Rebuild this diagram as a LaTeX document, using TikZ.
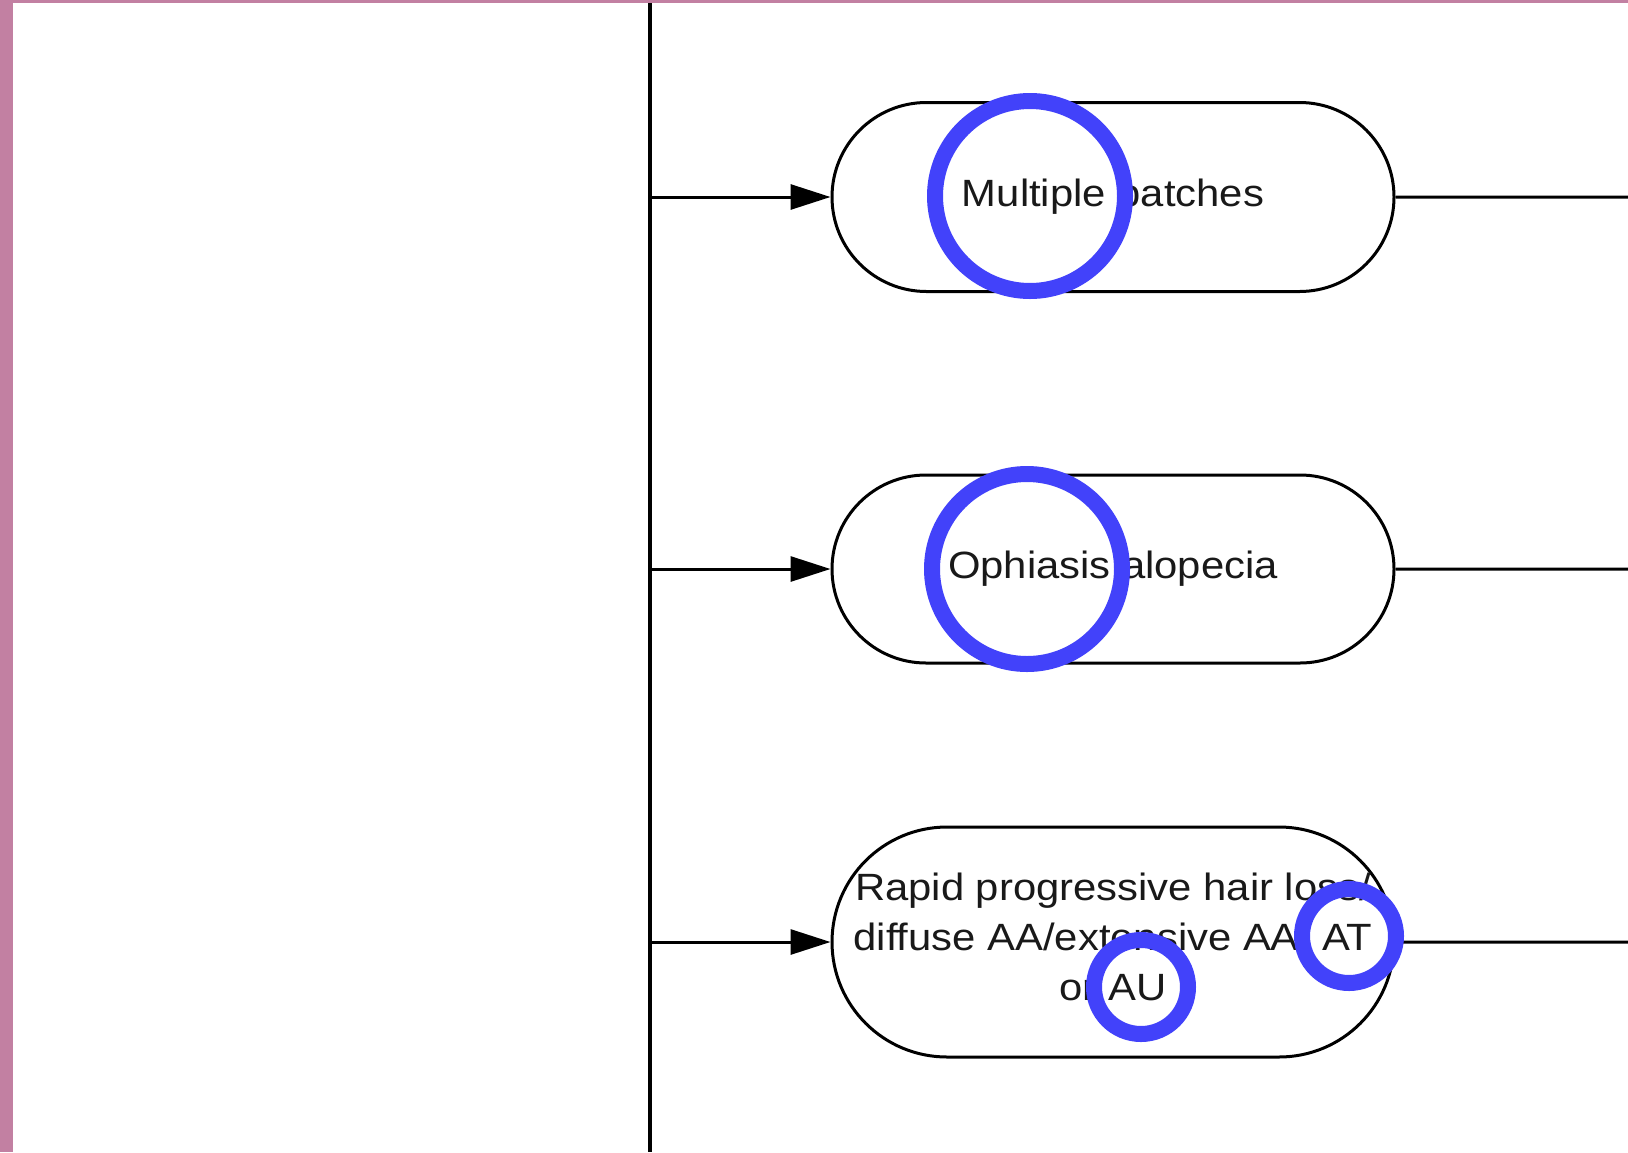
\documentclass[tikz,border=0pt]{standalone}
\usepackage{fontspec}
\setmainfont{Liberation Sans}[FakeStretch=1.1]
\usetikzlibrary{arrows.meta,shapes.misc}
\definecolor{framepink}{RGB}{194,128,162}
\definecolor{markblue}{RGB}{66,66,250}
\tikzstyle{stadium}=[rounded rectangle,draw,line width=3pt,minimum width=562pt,inner sep=0pt]
\tikzstyle{caption}=[align=center,font=\fontsize{38}{50}\selectfont,text=black!90]
\tikzstyle{ring}=[draw=markblue,line width=16pt]

\begin{document}
\begin{tikzpicture}[x=1pt,y=-1pt,>={Triangle[length=40pt,width=25pt]},line width=3pt]
	\useasboundingbox (0,0) rectangle (1628,1152);
	\fill[white] (0,0) rectangle (1628,1152);
	\coordinate (top) at (650,0);
	\coordinate (bottom) at (650,1152);
	\draw[line width=3.5pt] (top) -- (bottom);
\foreach \pos/\y/\h/\dy/\txt in {patches/197/189/0/{Multiple patches}, ophiasis/569/188/0/{Ophiasis alopecia}, rapid/942/230/5/{Rapid progressive hair loss/\\diffuse AA/extensive AA/ AT\\or AU}}
{
	\node[stadium, minimum height=\h pt] (\pos) at (1113,\y) {};
	\node[caption, yshift=\dy pt] (\pos txt) at (\pos) {\txt};
	\coordinate (\pos in) at (650,\y);
	\coordinate (\pos out) at (1628,\y);
	\draw[->] (\pos in) -- (\pos);
	\draw (\pos) -- (\pos out);
}
	% blue marks
	\draw[ring] (1030,196) circle (95pt);
	\draw[ring] (1027,569) circle (95pt);
	\draw[ring] (1349,936) circle (47pt);
	\draw[ring] (1141,987) circle (47pt);
	\fill[framepink] (0,0) rectangle (13,1152);
	\fill[framepink] (0,0) rectangle (1628,2.5);
\end{tikzpicture}
\end{document}
